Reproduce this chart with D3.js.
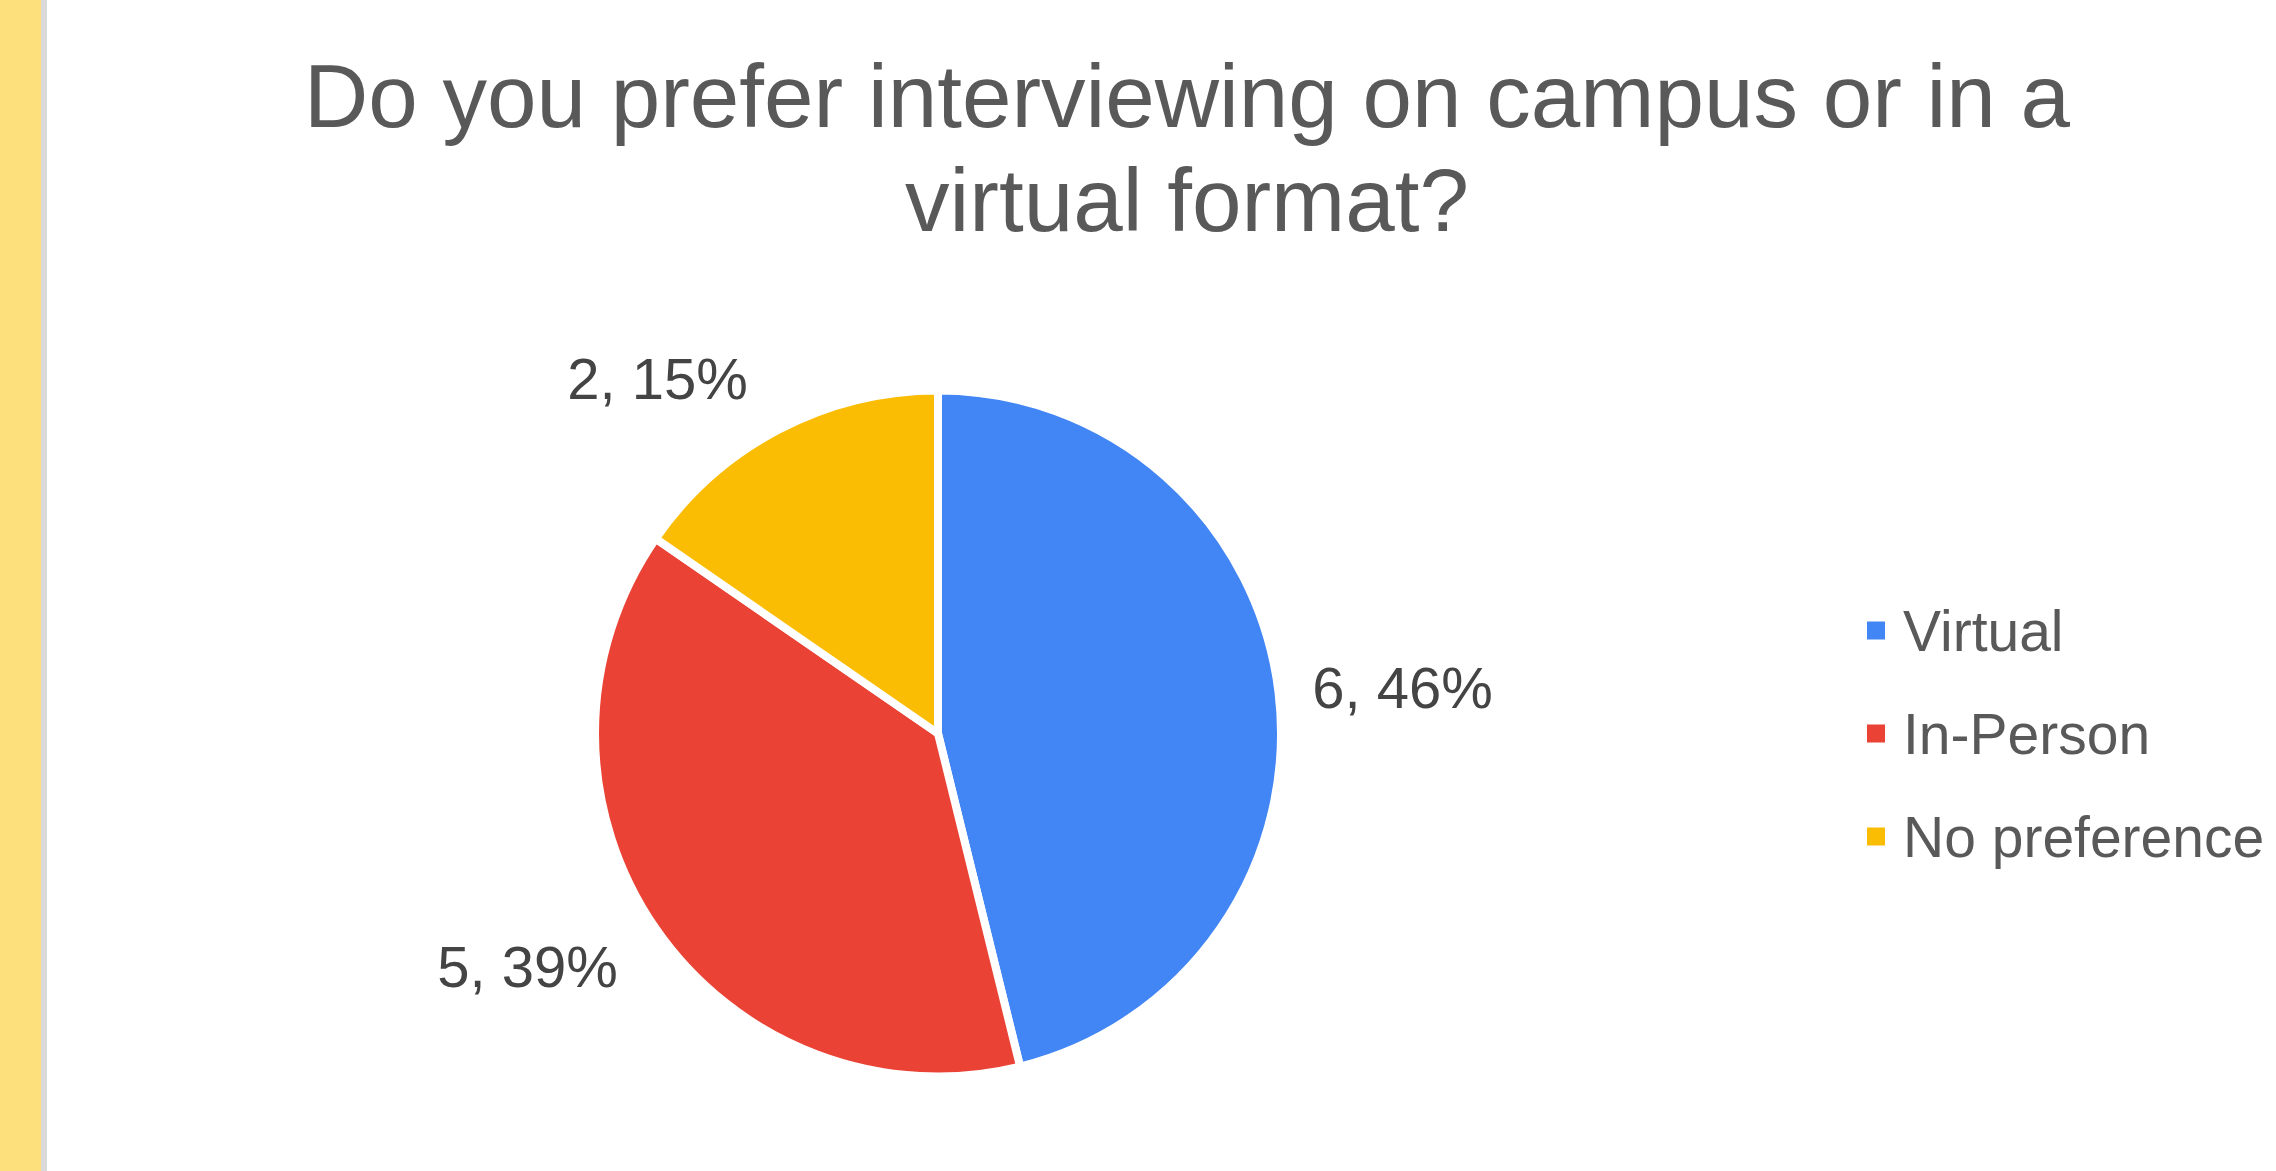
<!DOCTYPE html>
<html>
<head>
<meta charset="utf-8">
<script src="https://cdn.jsdelivr.net/npm/d3@7"></script>
<style>
  html, body { margin: 0; padding: 0; background: #ffffff; }
  svg { display: block; font-family: "Liberation Sans", Arial, sans-serif; }
</style>
</head>
<body>
<script>
// ---- data ----
const categories = ["Virtual", "In-Person", "No preference"];
const values = [6, 5, 2];
const percentLabels = ["46%", "39%", "15%"];
const titleLines = ["Do you prefer interviewing on campus or in a", "virtual format?"];

// ---- styles ----
const sliceColors = ["#4285F4", "#EA4335", "#FBBC04"];
const W = 2276, H = 1171;

const svg = d3.select("body").append("svg")
  .attr("width", W).attr("height", H);

// left decorative strip
svg.append("rect").attr("x", 0).attr("y", 0).attr("width", 41).attr("height", H).attr("fill", "#FDE07B");
svg.append("rect").attr("x", 41).attr("y", 0).attr("width", 6).attr("height", H).attr("fill", "#D9D9D9");

// title
const title = svg.append("text")
  .attr("text-anchor", "middle")
  .attr("fill", "#595959")
  .style("font-size", "89px");
title.selectAll("tspan").data(titleLines).join("tspan")
  .attr("x", 1187)
  .attr("y", (d, i) => 127 + i * 104)
  .text(d => d);

// pie
const cx = 938, cy = 733.5, R = 343;
const color = d3.scaleOrdinal().domain(categories).range(sliceColors);
const pie = d3.pie().sort(null).value(d => d.value);
const data = categories.map((c, i) => ({ cat: c, value: values[i], pct: percentLabels[i] }));
const arcs = pie(data);
const arc = d3.arc().innerRadius(0).outerRadius(R);

const g = svg.append("g").attr("transform", `translate(${cx},${cy})`);
g.selectAll("path").data(arcs).join("path")
  .attr("d", arc)
  .attr("fill", d => color(d.data.cat))
  .attr("stroke", "#ffffff")
  .attr("stroke-width", 8)
  .attr("stroke-linejoin", "miter");

// data labels
const labelR = 383, fs = 58;
g.selectAll("text.lbl").data(arcs).join("text")
  .attr("class", "lbl")
  .attr("fill", "#444444")
  .style("font-size", fs + "px")
  .each(function(d) {
    const a = (d.startAngle + d.endAngle) / 2;
    const px = labelR * Math.sin(a) - 5 - 8 * Math.max(0, Math.cos(a));
    const py = -labelR * Math.cos(a);
    d3.select(this)
      .attr("x", px)
      .attr("y", py + fs * (0.41 - 0.38 * Math.cos(a)))
      .attr("text-anchor", Math.sin(a) >= 0 ? "start" : "end")
      .text(`${d.data.value}, ${d.data.pct}`);
  });

// legend
const legend = svg.append("g").attr("transform", `translate(1867,${cy})`);
const step = 103;
const items = legend.selectAll("g").data(categories).join("g")
  .attr("transform", (d, i) => `translate(0,${(i - 1) * step})`);
items.append("rect")
  .attr("x", 0).attr("y", -9).attr("width", 18).attr("height", 18)
  .attr("fill", d => color(d));
items.append("text")
  .attr("x", 36).attr("y", 20)
  .attr("fill", "#595959")
  .style("font-size", "57px")
  .text(d => d);
</script>
</body>
</html>
